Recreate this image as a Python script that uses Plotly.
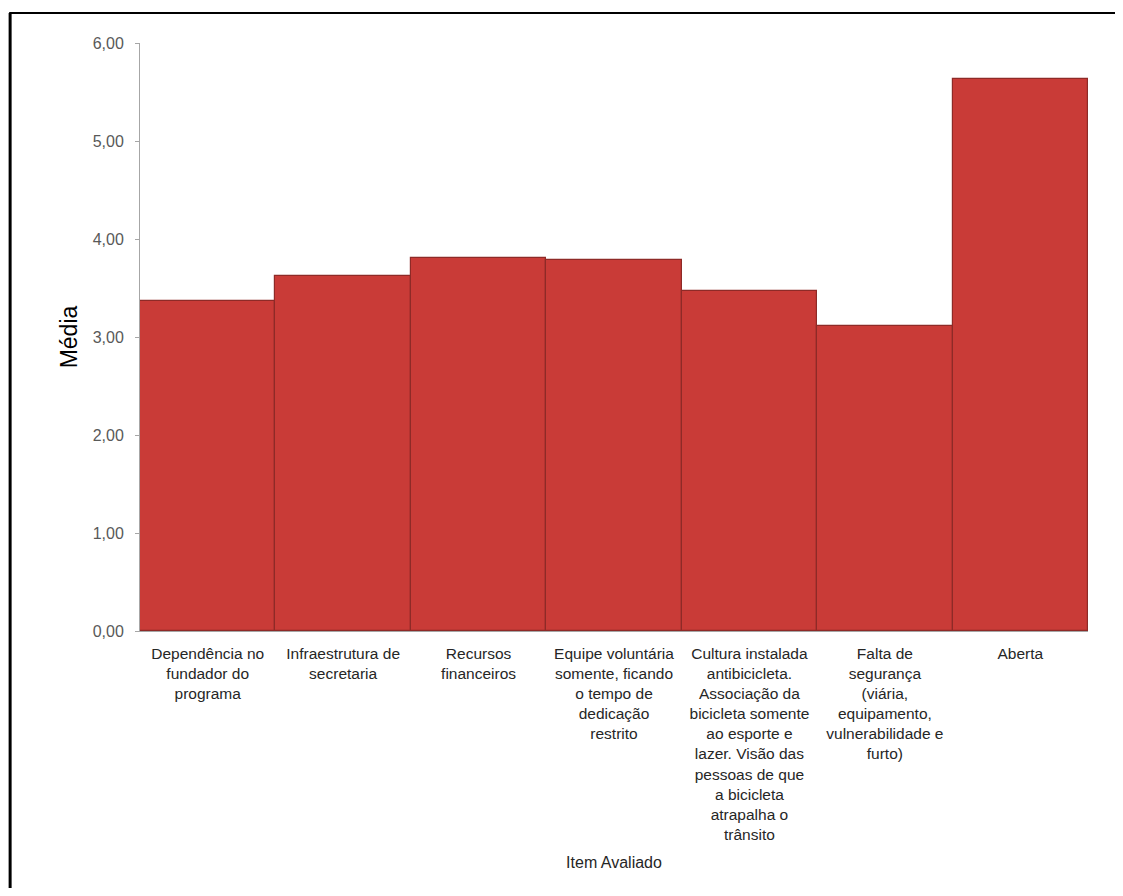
import plotly.graph_objects as go

# categorias (eixo x) e médias
itens = [
    "Dependência no<br>fundador do<br>programa",
    "Infraestrutura de<br>secretaria",
    "Recursos<br>financeiros",
    "Equipe voluntária<br>somente, ficando<br>o tempo de<br>dedicação<br>restrito",
    "Cultura instalada<br>antibicicleta.<br>Associação da<br>bicicleta somente<br>ao esporte e<br>lazer. Visão das<br>pessoas de que<br>a bicicleta<br>atrapalha o<br>trânsito",
    "Falta de<br>segurança<br>(viária,<br>equipamento,<br>vulnerabilidade e<br>furto)",
    "Aberta",
]
medias = [3.37, 3.62, 3.81, 3.79, 3.47, 3.11, 5.63]
y_ticks = [0, 1, 2, 3, 4, 5, 6]

fonte = "Liberation Sans, Arial, sans-serif"

fig = go.Figure()
fig.add_trace(go.Bar(
    x=itens,
    y=medias,
    marker=dict(color="#c93b37", line=dict(color="#8e2a27", width=1.2)),
    showlegend=False,
))

# moldura preta (topo e esquerda) como no original
fig.add_shape(type="line", xref="paper", yref="paper",
              x0=-0.138, x1=1.04, y0=1.051, y1=1.051,
              line=dict(color="black", width=2))
fig.add_shape(type="line", xref="paper", yref="paper",
              x0=-0.137, x1=-0.137, y0=1.051, y1=-0.44,
              line=dict(color="black", width=3))

# a página tem margem de 8px, por isso a figura é um pouco menor
fig.update_layout(
    width=1107, height=880,
    margin=dict(l=132, r=27, t=35, b=257),
    paper_bgcolor="white", plot_bgcolor="white",
    bargap=0,
    separators=",.",
    font=dict(family=fonte, color="#262626"),
    xaxis=dict(
        showline=True, linecolor="#a6a6a6", linewidth=1,
        tickfont=dict(size=15.5, color="#262626"),
        tickangle=0, ticks="", ticklabelstandoff=8,
        title=dict(text="Item Avaliado", font=dict(size=16, color="#262626"), standoff=14),
        automargin=False,
    ),
    yaxis=dict(
        range=[0, 6], tickvals=y_ticks, tickformat=".2f",
        showline=True, linecolor="#a6a6a6", linewidth=1,
        ticks="outside", ticklen=4, tickcolor="#a6a6a6",
        tickfont=dict(size=16, color="#595959"),
        ticklabelstandoff=8,
        showgrid=False, zeroline=False,
        title=dict(text="Média", font=dict(size=23, color="black"), standoff=8),
        automargin=False,
    ),
)

fig.write_html("out.html")
